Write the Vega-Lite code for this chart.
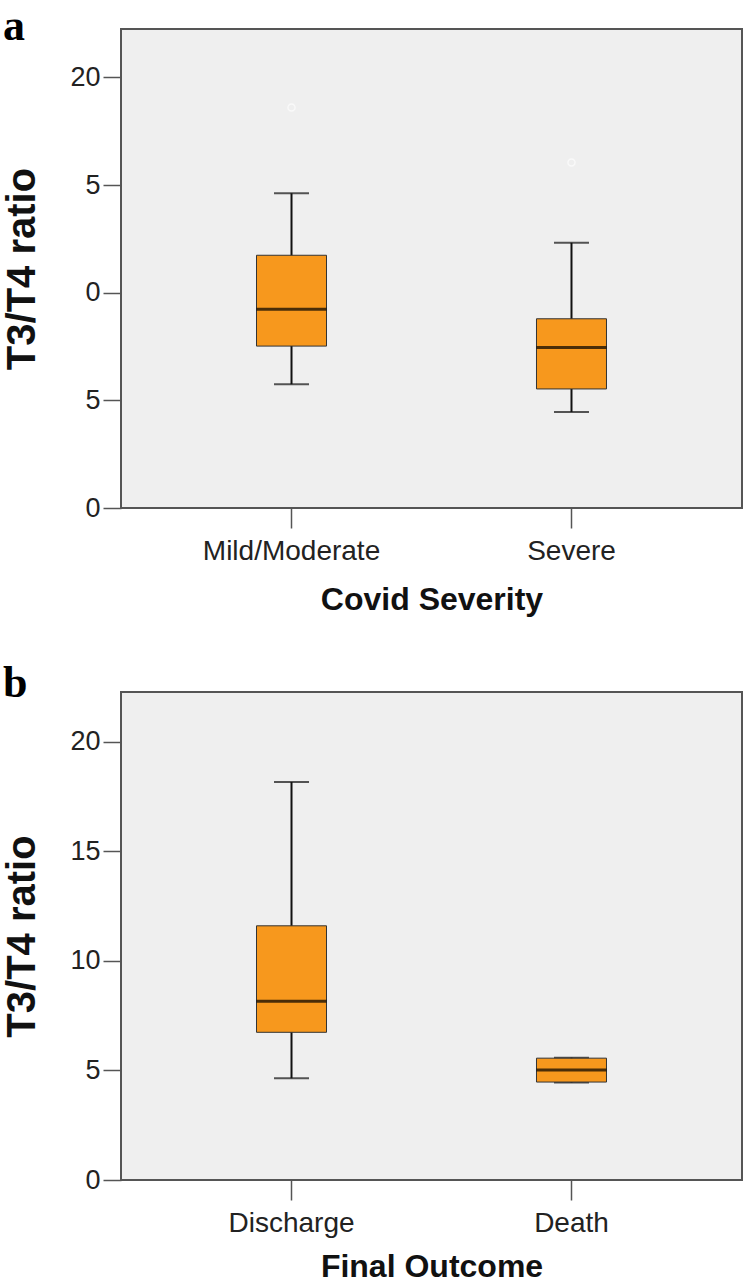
{
  "$schema": "https://vega.github.io/schema/vega-lite/v6.json",
  "padding": {"left": 1, "top": 4, "right": 0, "bottom": 0},
  "background": "white",
  "spacing": 45,
  "datasets": {
    "boxes": [
      {"panel": "a", "group": "Mild/Moderate", "lower": 5.75, "q1": 7.52, "median": 9.23, "q3": 11.74, "upper": 14.62},
      {"panel": "a", "group": "Severe", "lower": 4.46, "q1": 5.53, "median": 7.45, "q3": 8.79, "upper": 12.32},
      {"panel": "b", "group": "Discharge", "lower": 4.64, "q1": 6.74, "median": 8.16, "q3": 11.6, "upper": 18.16},
      {"panel": "b", "group": "Death", "lower": 4.45, "q1": 4.47, "median": 5.02, "q3": 5.56, "upper": 5.58}
    ],
    "outliers": [
      {"panel": "a", "group": "Mild/Moderate", "value": 18.6},
      {"panel": "a", "group": "Severe", "value": 16.05}
    ]
  },
  "config": {
    "font": "Liberation Sans",
    "view": {"fill": "#EFEFEF", "stroke": "#555555", "strokeWidth": 2},
    "axis": {
      "domain": false,
      "grid": false,
      "tickColor": "#555555",
      "tickWidth": 1.5,
      "labelColor": "#222222",
      "labelFont": "Liberation Sans",
      "titleColor": "#111111",
      "titleFont": "Liberation Sans",
      "titleFontWeight": "bold"
    },
    "axisX": {"tickSize": 20, "labelPadding": 9, "labelFontSize": 28, "titleFontSize": 32, "labelAngle": 0},
    "axisY": {"tickSize": 18, "labelPadding": 3, "labelFontSize": 27, "titleFontSize": 40, "titlePadding": 27},
    "title": {"font": "Liberation Serif", "fontSize": 44, "fontWeight": "bold", "color": "#000000", "anchor": "start", "frame": "bounds"}
  },
  "vconcat": [
    {
      "title": {"text": "a", "offset": -20},
      "width": 621,
      "height": 479,
      "encoding": {
        "x": {"field": "group", "type": "nominal", "sort": ["Mild/Moderate", "Severe"],
              "scale": {"type": "band", "paddingInner": 0, "paddingOuter": 0.109},
              "axis": {"title": "Covid Severity", "titlePadding": 19}},
        "y": {"type": "quantitative", "scale": {"domain": [0, 22.25], "nice": false},
              "axis": {"title": "T3/T4 ratio", "values": [0, 5, 10, 15, 20],
                       "labelExpr": "datum.value == 15 ? '5' : datum.value == 10 ? '0' : datum.label"}}
      },
      "layer": [
        {
          "data": {"name": "boxes"},
          "transform": [{"filter": "datum.panel == 'a'"}],
          "mark": {"type": "rule", "color": "#111111", "strokeWidth": 2},
          "encoding": {"y": {"field": "lower"}, "y2": {"field": "upper"}}
        },
        {
          "data": {"name": "boxes"},
          "transform": [{"filter": "datum.panel == 'a'"}],
          "mark": {"type": "tick", "color": "#111111", "size": 35, "thickness": 2},
          "encoding": {"y": {"field": "lower"}}
        },
        {
          "data": {"name": "boxes"},
          "transform": [{"filter": "datum.panel == 'a'"}],
          "mark": {"type": "tick", "color": "#111111", "size": 35, "thickness": 2},
          "encoding": {"y": {"field": "upper"}}
        },
        {
          "data": {"name": "boxes"},
          "transform": [{"filter": "datum.panel == 'a'"}],
          "mark": {"type": "bar", "size": 70, "fill": "#F7981D", "stroke": "#333333", "strokeWidth": 1},
          "encoding": {"y": {"field": "q1"}, "y2": {"field": "q3"}}
        },
        {
          "data": {"name": "boxes"},
          "transform": [{"filter": "datum.panel == 'a'"}],
          "mark": {"type": "tick", "color": "#000000", "size": 70, "thickness": 3},
          "encoding": {"y": {"field": "median"}}
        },
        {
          "data": {"name": "outliers"},
          "transform": [{"filter": "datum.panel == 'a'"}],
          "mark": {"type": "point", "shape": "circle", "size": 50, "color": "#F9F9F9", "strokeWidth": 1.5, "opacity": 1},
          "encoding": {"y": {"field": "value"}}
        }
      ]
    },
    {
      "title": {"text": "b", "offset": -14},
      "width": 621,
      "height": 488,
      "encoding": {
        "x": {"field": "group", "type": "nominal", "sort": ["Discharge", "Death"],
              "scale": {"type": "band", "paddingInner": 0, "paddingOuter": 0.109},
              "axis": {"title": "Final Outcome", "titlePadding": 14}},
        "y": {"type": "quantitative", "scale": {"domain": [0, 22.27], "nice": false},
              "axis": {"title": "T3/T4 ratio", "values": [0, 5, 10, 15, 20]}}
      },
      "layer": [
        {
          "data": {"name": "boxes"},
          "transform": [{"filter": "datum.panel == 'b'"}],
          "mark": {"type": "rule", "color": "#111111", "strokeWidth": 2},
          "encoding": {"y": {"field": "lower"}, "y2": {"field": "upper"}}
        },
        {
          "data": {"name": "boxes"},
          "transform": [{"filter": "datum.panel == 'b'"}],
          "mark": {"type": "tick", "color": "#111111", "size": 35, "thickness": 2},
          "encoding": {"y": {"field": "lower"}}
        },
        {
          "data": {"name": "boxes"},
          "transform": [{"filter": "datum.panel == 'b'"}],
          "mark": {"type": "tick", "color": "#111111", "size": 35, "thickness": 2},
          "encoding": {"y": {"field": "upper"}}
        },
        {
          "data": {"name": "boxes"},
          "transform": [{"filter": "datum.panel == 'b'"}],
          "mark": {"type": "bar", "size": 70, "fill": "#F7981D", "stroke": "#333333", "strokeWidth": 1},
          "encoding": {"y": {"field": "q1"}, "y2": {"field": "q3"}}
        },
        {
          "data": {"name": "boxes"},
          "transform": [{"filter": "datum.panel == 'b'"}],
          "mark": {"type": "tick", "color": "#000000", "size": 70, "thickness": 3},
          "encoding": {"y": {"field": "median"}}
        }
      ]
    }
  ]
}
